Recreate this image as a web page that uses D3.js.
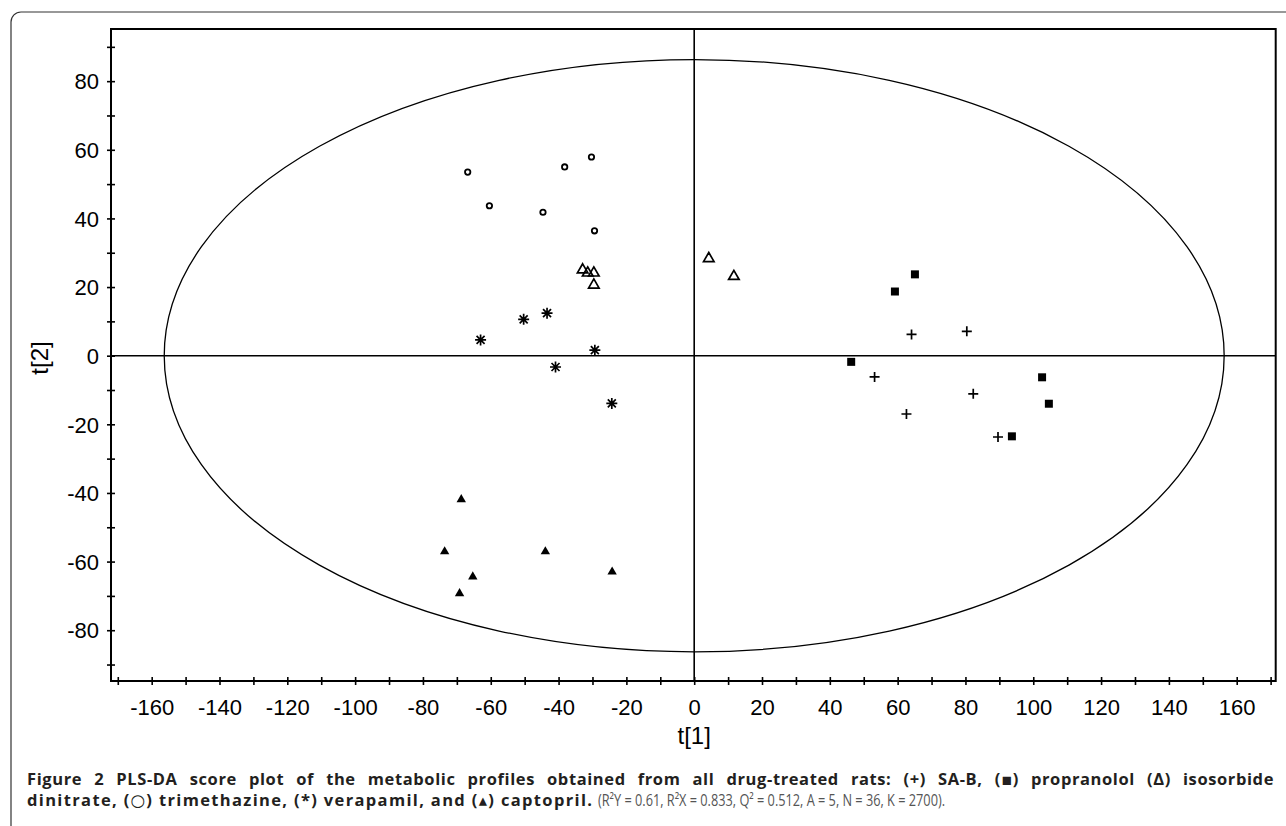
<!DOCTYPE html>
<html>
<head>
<meta charset="utf-8">
<script src="https://cdn.jsdelivr.net/npm/d3@7"></script>
<style>
  body { margin: 0; background: #fff; }
  svg { display: block; }
</style>
</head>
<body>
<script>
// score values, [t1, t2]
const saB = [[64.1, 6.2], [80.4, 7.1], [53.2, -6.2], [82.3, -11.1], [62.6, -17.0], [89.6, -23.7]];
const propranolol = [[65.1, 23.7], [59.2, 18.7], [46.3, -1.8], [102.6, -6.3], [104.6, -14.0], [93.7, -23.5]];
const isosorbide = [[-32.9, 25.0], [-31.4, 24.1], [-29.6, 24.1], [-29.6, 20.6], [4.3, 28.3], [11.7, 23.1]];
const trimethazine = [[-66.8, 53.5], [-60.4, 43.7], [-38.2, 55.0], [-30.3, 57.9], [-44.6, 41.8], [-29.4, 36.4]];
const verapamil = [[-50.3, 10.6], [-43.4, 12.4], [-63.0, 4.6], [-29.3, 1.6], [-40.9, -3.3], [-24.3, -13.9]];
const captopril = [[-68.7, -41.9], [-73.6, -57.1], [-43.9, -57.1], [-65.3, -64.4], [-69.2, -69.3], [-24.2, -63.0]];

// Hotelling T2 ellipse radii (t1, t2)
const ellipseR = [156.3, 86.3];

const xTicks = [-170, -160, -150, -140, -130, -120, -110, -100, -90, -80, -70, -60, -50, -40, -30, -20, -10,
  0, 10, 20, 30, 40, 50, 60, 70, 80, 90, 100, 110, 120, 130, 140, 150, 160, 170];
const xLabels = [-160, -140, -120, -100, -80, -60, -40, -20, 0, 20, 40, 60, 80, 100, 120, 140, 160];
const yTicks = [-90, -80, -70, -60, -50, -40, -30, -20, -10, 0, 10, 20, 30, 40, 50, 60, 70, 80, 90];
const yLabels = [-80, -60, -40, -20, 0, 20, 40, 60, 80];

const width = 1286, height = 826;
const svg = d3.select("body").append("svg").attr("width", width).attr("height", height);

// outer rounded box of the figure
svg.append("rect")
  .attr("x", 11).attr("y", 12)
  .attr("width", 1300).attr("height", 840)
  .attr("rx", 10)
  .attr("fill", "none")
  .attr("stroke", "#333")
  .attr("stroke-width", 1.2);

const x = d3.scaleLinear().domain([-172, 171.5]).range([111, 1275.7]);
const y = d3.scaleLinear().domain([-94.8, 95.2]).range([681, 29]);

const tickFont = "'Liberation Sans', Arial, sans-serif";

// x axis
const gx = svg.append("g")
  .attr("transform", `translate(0,${y.range()[0]})`)
  .call(d3.axisBottom(x).tickValues(xTicks).tickSize(4).tickSizeOuter(0)
    .tickFormat((d) => (xLabels.includes(d) ? String(d) : "")));
gx.select(".domain").remove();
gx.selectAll(".tick line").attr("y1", -4).attr("y2", 4).attr("stroke", "#000").attr("stroke-width", 1.6);
gx.selectAll(".tick text")
  .attr("y", 34).attr("dy", 0)
  .attr("font-family", tickFont).attr("font-size", 22).attr("fill", "#000");

// y axis
const gy = svg.append("g")
  .attr("transform", `translate(${x.range()[0]},0)`)
  .call(d3.axisLeft(y).tickValues(yTicks).tickSize(4).tickSizeOuter(0)
    .tickFormat((d) => (yLabels.includes(d) ? String(d) : "")));
gy.select(".domain").remove();
gy.selectAll(".tick line").attr("x1", -4).attr("x2", 4).attr("stroke", "#000").attr("stroke-width", 1.6);
gy.selectAll(".tick text")
  .attr("x", -12).attr("dy", "0.35em")
  .attr("font-family", tickFont).attr("font-size", 22).attr("fill", "#000");

// plot frame
svg.append("rect")
  .attr("x", x.range()[0]).attr("y", y.range()[1])
  .attr("width", x.range()[1] - x.range()[0])
  .attr("height", y.range()[0] - y.range()[1])
  .attr("fill", "none")
  .attr("stroke", "#000")
  .attr("stroke-width", 2);

// zero lines
svg.append("line")
  .attr("x1", x.range()[0]).attr("x2", x.range()[1])
  .attr("y1", y(0)).attr("y2", y(0))
  .attr("stroke", "#000").attr("stroke-width", 1.6);
svg.append("line")
  .attr("x1", x(0)).attr("x2", x(0))
  .attr("y1", y.range()[1]).attr("y2", y.range()[0])
  .attr("stroke", "#000").attr("stroke-width", 1.6);

// ellipse
svg.append("ellipse")
  .attr("cx", x(0)).attr("cy", y(0))
  .attr("rx", x(ellipseR[0]) - x(0))
  .attr("ry", y(0) - y(ellipseR[1]))
  .attr("fill", "none")
  .attr("stroke", "#000")
  .attr("stroke-width", 1.3);

// markers
const pts = svg.append("g");
const place = (sel) => sel.attr("transform", (d) => `translate(${x(d[0])},${y(d[1])})`);

pts.selectAll(".plus").data(saB).enter().append("path")
  .attr("class", "plus").call(place)
  .attr("d", "M-5,0H5M0,-5V5")
  .attr("stroke", "#000").attr("stroke-width", 1.7).attr("fill", "none");

pts.selectAll(".sq").data(propranolol).enter().append("path")
  .attr("class", "sq").call(place)
  .attr("d", d3.symbol().type(d3.symbolSquare).size(64))
  .attr("fill", "#000");

pts.selectAll(".otri").data(isosorbide).enter().append("path")
  .attr("class", "otri").call(place)
  .attr("d", d3.symbol().type(d3.symbolTriangle).size(48))
  .attr("fill", "none").attr("stroke", "#000").attr("stroke-width", 1.7);

pts.selectAll(".circ").data(trimethazine).enter().append("circle")
  .attr("class", "circ")
  .attr("cx", (d) => x(d[0])).attr("cy", (d) => y(d[1]))
  .attr("r", 2.7)
  .attr("fill", "none").attr("stroke", "#000").attr("stroke-width", 1.8);

pts.selectAll(".star").data(verapamil).enter().append("path")
  .attr("class", "star").call(place)
  .attr("d", "M-5.5,0H5.5M0,-5.5V5.5M-4,-4L4,4M-4,4L4,-4")
  .attr("stroke", "#000").attr("stroke-width", 1.7).attr("fill", "none");

pts.selectAll(".ftri").data(captopril).enter().append("path")
  .attr("class", "ftri").call(place)
  .attr("d", d3.symbol().type(d3.symbolTriangle).size(38))
  .attr("fill", "#000");

// axis titles
svg.append("text")
  .attr("x", x(0)).attr("y", 744)
  .attr("text-anchor", "middle")
  .attr("font-family", tickFont).attr("font-size", 24)
  .text("t[1]");
svg.append("text")
  .attr("transform", "translate(48,358) rotate(-90)")
  .attr("text-anchor", "middle")
  .attr("font-family", tickFont).attr("font-size", 24)
  .text("t[2]");

// caption
const capFont = "'Open Sans', 'DejaVu Sans', sans-serif";
const capLeft = 27, capRight = 1274;

const line1 = svg.append("text")
  .attr("x", capLeft).attr("y", 785)
  .attr("font-family", capFont).attr("font-size", 16.5).attr("font-weight", "bold")
  .attr("letter-spacing", 0.6)
  .attr("fill", "#231f20")
  .text("Figure 2 PLS-DA score plot of the metabolic profiles obtained from all drug-treated rats: (+) SA-B, (\u25AA) propranolol (\u0394) isosorbide");
const len1 = line1.node().getComputedTextLength();
const spaces1 = (line1.text().match(/ /g) || []).length;
line1.attr("word-spacing", Math.max(0, (capRight - capLeft - len1) / spaces1));

svg.append("text")
  .attr("x", capLeft).attr("y", 806)
  .attr("font-family", capFont).attr("font-size", 16.5).attr("font-weight", "bold")
  .attr("fill", "#231f20")
  .attr("textLength", 565).attr("lengthAdjust", "spacing")
  .text("dinitrate, (\u25CB) trimethazine, (*) verapamil, and (\u25B4) captopril.");

svg.append("text")
  .attr("x", 598).attr("y", 806)
  .attr("font-family", capFont).attr("font-size", 16)
  .attr("fill", "#555")
  .attr("textLength", 347).attr("lengthAdjust", "spacingAndGlyphs")
  .text("(R\u00B2Y = 0.61, R\u00B2X = 0.833, Q\u00B2 = 0.512, A = 5, N = 36, K = 2700).");
</script>
</body>
</html>
